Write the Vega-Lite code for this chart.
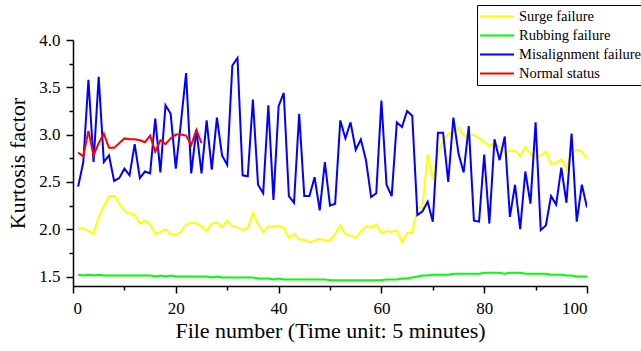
{
  "$schema": "https://vega.github.io/schema/vega-lite/v6.json",
  "width": 514,
  "height": 246,
  "autosize": {"type": "none"},
  "padding": {"left": 73, "top": 40, "right": 54, "bottom": 65},
  "background": "white",
  "config": {
    "view": {"stroke": null},
    "axis": {
      "labelFont": "Liberation Serif",
      "titleFont": "Liberation Serif",
      "labelColor": "black",
      "titleColor": "black",
      "domainColor": "black",
      "tickColor": "black",
      "domainWidth": 1.5,
      "tickWidth": 1.5,
      "labelFontSize": 17,
      "titleFontSize": 22,
      "titleFontWeight": "normal",
      "grid": false,
      "labelOverlap": false
    },
    "legend": {"strokeWidth": 1}
  },
  "data": {
    "values": [
      {"x":1,"s":"Surge failure","y":2.01},{"x":2,"s":"Surge failure","y":2.01},{"x":3,"s":"Surge failure","y":1.98},{"x":4,"s":"Surge failure","y":1.95},{"x":5,"s":"Surge failure","y":2.13},{"x":6,"s":"Surge failure","y":2.24},{"x":7,"s":"Surge failure","y":2.35},{"x":8,"s":"Surge failure","y":2.35},{"x":9,"s":"Surge failure","y":2.27},{"x":10,"s":"Surge failure","y":2.19},
      {"x":11,"s":"Surge failure","y":2.17},{"x":12,"s":"Surge failure","y":2.15},{"x":13,"s":"Surge failure","y":2.06},{"x":14,"s":"Surge failure","y":2.09},{"x":15,"s":"Surge failure","y":2.05},{"x":16,"s":"Surge failure","y":1.95},{"x":17,"s":"Surge failure","y":1.97},{"x":18,"s":"Surge failure","y":2.0},{"x":19,"s":"Surge failure","y":1.95},{"x":20,"s":"Surge failure","y":1.94},
      {"x":21,"s":"Surge failure","y":1.97},{"x":22,"s":"Surge failure","y":2.05},{"x":23,"s":"Surge failure","y":2.07},{"x":24,"s":"Surge failure","y":2.06},{"x":25,"s":"Surge failure","y":2.03},{"x":26,"s":"Surge failure","y":1.98},{"x":27,"s":"Surge failure","y":2.06},{"x":28,"s":"Surge failure","y":2.07},{"x":29,"s":"Surge failure","y":2.02},{"x":30,"s":"Surge failure","y":2.09},
      {"x":31,"s":"Surge failure","y":2.03},{"x":32,"s":"Surge failure","y":2.02},{"x":33,"s":"Surge failure","y":1.99},{"x":34,"s":"Surge failure","y":2.01},{"x":35,"s":"Surge failure","y":2.17},{"x":36,"s":"Surge failure","y":2.05},{"x":37,"s":"Surge failure","y":1.97},{"x":38,"s":"Surge failure","y":2.03},{"x":39,"s":"Surge failure","y":2.03},{"x":40,"s":"Surge failure","y":2.04},
      {"x":41,"s":"Surge failure","y":2.01},{"x":42,"s":"Surge failure","y":1.91},{"x":43,"s":"Surge failure","y":1.95},{"x":44,"s":"Surge failure","y":1.89},{"x":45,"s":"Surge failure","y":1.89},{"x":46,"s":"Surge failure","y":1.86},{"x":47,"s":"Surge failure","y":1.88},{"x":48,"s":"Surge failure","y":1.9},{"x":49,"s":"Surge failure","y":1.88},{"x":50,"s":"Surge failure","y":1.88},
      {"x":51,"s":"Surge failure","y":1.95},{"x":52,"s":"Surge failure","y":2.04},{"x":53,"s":"Surge failure","y":1.95},{"x":54,"s":"Surge failure","y":1.93},{"x":55,"s":"Surge failure","y":1.91},{"x":56,"s":"Surge failure","y":1.98},{"x":57,"s":"Surge failure","y":2.03},{"x":58,"s":"Surge failure","y":2.02},{"x":59,"s":"Surge failure","y":2.05},{"x":60,"s":"Surge failure","y":1.96},
      {"x":61,"s":"Surge failure","y":1.98},{"x":62,"s":"Surge failure","y":1.97},{"x":63,"s":"Surge failure","y":1.99},{"x":64,"s":"Surge failure","y":1.86},{"x":65,"s":"Surge failure","y":1.96},{"x":66,"s":"Surge failure","y":1.96},{"x":67,"s":"Surge failure","y":2.23},{"x":68,"s":"Surge failure","y":2.23},{"x":69,"s":"Surge failure","y":2.79},{"x":70,"s":"Surge failure","y":2.52},
      {"x":71,"s":"Surge failure","y":2.81},{"x":72,"s":"Surge failure","y":2.94},{"x":73,"s":"Surge failure","y":3.01},{"x":74,"s":"Surge failure","y":3.02},{"x":75,"s":"Surge failure","y":3.07},{"x":76,"s":"Surge failure","y":2.99},{"x":77,"s":"Surge failure","y":2.98},{"x":78,"s":"Surge failure","y":3.0},{"x":79,"s":"Surge failure","y":2.96},{"x":80,"s":"Surge failure","y":2.92},
      {"x":81,"s":"Surge failure","y":2.88},{"x":82,"s":"Surge failure","y":2.91},{"x":83,"s":"Surge failure","y":2.87},{"x":84,"s":"Surge failure","y":2.8},{"x":85,"s":"Surge failure","y":2.83},{"x":86,"s":"Surge failure","y":2.83},{"x":87,"s":"Surge failure","y":2.77},{"x":88,"s":"Surge failure","y":2.87},{"x":89,"s":"Surge failure","y":2.8},{"x":90,"s":"Surge failure","y":2.75},
      {"x":91,"s":"Surge failure","y":2.78},{"x":92,"s":"Surge failure","y":2.82},{"x":93,"s":"Surge failure","y":2.69},{"x":94,"s":"Surge failure","y":2.7},{"x":95,"s":"Surge failure","y":2.74},{"x":96,"s":"Surge failure","y":2.64},{"x":97,"s":"Surge failure","y":2.8},{"x":98,"s":"Surge failure","y":2.84},{"x":99,"s":"Surge failure","y":2.82},{"x":100,"s":"Surge failure","y":2.75},

      {"x":1,"s":"Rubbing failure","y":1.52},{"x":2,"s":"Rubbing failure","y":1.51},{"x":3,"s":"Rubbing failure","y":1.52},{"x":4,"s":"Rubbing failure","y":1.51},{"x":5,"s":"Rubbing failure","y":1.52},{"x":6,"s":"Rubbing failure","y":1.51},{"x":7,"s":"Rubbing failure","y":1.51},{"x":8,"s":"Rubbing failure","y":1.51},{"x":9,"s":"Rubbing failure","y":1.51},{"x":10,"s":"Rubbing failure","y":1.51},
      {"x":11,"s":"Rubbing failure","y":1.51},{"x":12,"s":"Rubbing failure","y":1.51},{"x":13,"s":"Rubbing failure","y":1.51},{"x":14,"s":"Rubbing failure","y":1.51},{"x":15,"s":"Rubbing failure","y":1.51},{"x":16,"s":"Rubbing failure","y":1.5},{"x":17,"s":"Rubbing failure","y":1.51},{"x":18,"s":"Rubbing failure","y":1.5},{"x":19,"s":"Rubbing failure","y":1.51},{"x":20,"s":"Rubbing failure","y":1.5},
      {"x":21,"s":"Rubbing failure","y":1.5},{"x":22,"s":"Rubbing failure","y":1.5},{"x":23,"s":"Rubbing failure","y":1.5},{"x":24,"s":"Rubbing failure","y":1.5},{"x":25,"s":"Rubbing failure","y":1.5},{"x":26,"s":"Rubbing failure","y":1.5},{"x":27,"s":"Rubbing failure","y":1.49},{"x":28,"s":"Rubbing failure","y":1.5},{"x":29,"s":"Rubbing failure","y":1.49},{"x":30,"s":"Rubbing failure","y":1.49},
      {"x":31,"s":"Rubbing failure","y":1.49},{"x":32,"s":"Rubbing failure","y":1.49},{"x":33,"s":"Rubbing failure","y":1.49},{"x":34,"s":"Rubbing failure","y":1.49},{"x":35,"s":"Rubbing failure","y":1.49},{"x":36,"s":"Rubbing failure","y":1.48},{"x":37,"s":"Rubbing failure","y":1.48},{"x":38,"s":"Rubbing failure","y":1.48},{"x":39,"s":"Rubbing failure","y":1.47},{"x":40,"s":"Rubbing failure","y":1.48},
      {"x":41,"s":"Rubbing failure","y":1.47},{"x":42,"s":"Rubbing failure","y":1.47},{"x":43,"s":"Rubbing failure","y":1.47},{"x":44,"s":"Rubbing failure","y":1.47},{"x":45,"s":"Rubbing failure","y":1.47},{"x":46,"s":"Rubbing failure","y":1.47},{"x":47,"s":"Rubbing failure","y":1.47},{"x":48,"s":"Rubbing failure","y":1.47},{"x":49,"s":"Rubbing failure","y":1.47},{"x":50,"s":"Rubbing failure","y":1.46},
      {"x":51,"s":"Rubbing failure","y":1.46},{"x":52,"s":"Rubbing failure","y":1.46},{"x":53,"s":"Rubbing failure","y":1.46},{"x":54,"s":"Rubbing failure","y":1.46},{"x":55,"s":"Rubbing failure","y":1.46},{"x":56,"s":"Rubbing failure","y":1.46},{"x":57,"s":"Rubbing failure","y":1.46},{"x":58,"s":"Rubbing failure","y":1.46},{"x":59,"s":"Rubbing failure","y":1.46},{"x":60,"s":"Rubbing failure","y":1.46},
      {"x":61,"s":"Rubbing failure","y":1.47},{"x":62,"s":"Rubbing failure","y":1.47},{"x":63,"s":"Rubbing failure","y":1.47},{"x":64,"s":"Rubbing failure","y":1.48},{"x":65,"s":"Rubbing failure","y":1.48},{"x":66,"s":"Rubbing failure","y":1.49},{"x":67,"s":"Rubbing failure","y":1.5},{"x":68,"s":"Rubbing failure","y":1.51},{"x":69,"s":"Rubbing failure","y":1.51},{"x":70,"s":"Rubbing failure","y":1.52},
      {"x":71,"s":"Rubbing failure","y":1.52},{"x":72,"s":"Rubbing failure","y":1.52},{"x":73,"s":"Rubbing failure","y":1.52},{"x":74,"s":"Rubbing failure","y":1.53},{"x":75,"s":"Rubbing failure","y":1.53},{"x":76,"s":"Rubbing failure","y":1.53},{"x":77,"s":"Rubbing failure","y":1.53},{"x":78,"s":"Rubbing failure","y":1.53},{"x":79,"s":"Rubbing failure","y":1.53},{"x":80,"s":"Rubbing failure","y":1.54},
      {"x":81,"s":"Rubbing failure","y":1.54},{"x":82,"s":"Rubbing failure","y":1.54},{"x":83,"s":"Rubbing failure","y":1.54},{"x":84,"s":"Rubbing failure","y":1.53},{"x":85,"s":"Rubbing failure","y":1.54},{"x":86,"s":"Rubbing failure","y":1.54},{"x":87,"s":"Rubbing failure","y":1.54},{"x":88,"s":"Rubbing failure","y":1.53},{"x":89,"s":"Rubbing failure","y":1.53},{"x":90,"s":"Rubbing failure","y":1.53},
      {"x":91,"s":"Rubbing failure","y":1.53},{"x":92,"s":"Rubbing failure","y":1.53},{"x":93,"s":"Rubbing failure","y":1.52},{"x":94,"s":"Rubbing failure","y":1.52},{"x":95,"s":"Rubbing failure","y":1.52},{"x":96,"s":"Rubbing failure","y":1.51},{"x":97,"s":"Rubbing failure","y":1.51},{"x":98,"s":"Rubbing failure","y":1.5},{"x":99,"s":"Rubbing failure","y":1.5},{"x":100,"s":"Rubbing failure","y":1.5},

      {"x":1,"s":"Misalignment failure","y":2.45},{"x":2,"s":"Misalignment failure","y":2.71},{"x":3,"s":"Misalignment failure","y":3.58},{"x":4,"s":"Misalignment failure","y":2.71},{"x":5,"s":"Misalignment failure","y":3.61},{"x":6,"s":"Misalignment failure","y":2.71},{"x":7,"s":"Misalignment failure","y":2.78},{"x":8,"s":"Misalignment failure","y":2.51},{"x":9,"s":"Misalignment failure","y":2.54},{"x":10,"s":"Misalignment failure","y":2.64},
      {"x":11,"s":"Misalignment failure","y":2.57},{"x":12,"s":"Misalignment failure","y":2.9},{"x":13,"s":"Misalignment failure","y":2.54},{"x":14,"s":"Misalignment failure","y":2.61},{"x":15,"s":"Misalignment failure","y":2.59},{"x":16,"s":"Misalignment failure","y":3.17},{"x":17,"s":"Misalignment failure","y":2.6},{"x":18,"s":"Misalignment failure","y":3.31},{"x":19,"s":"Misalignment failure","y":3.22},{"x":20,"s":"Misalignment failure","y":2.64},
      {"x":21,"s":"Misalignment failure","y":3.13},{"x":22,"s":"Misalignment failure","y":3.65},{"x":23,"s":"Misalignment failure","y":2.59},{"x":24,"s":"Misalignment failure","y":3.05},{"x":25,"s":"Misalignment failure","y":2.59},{"x":26,"s":"Misalignment failure","y":3.15},{"x":27,"s":"Misalignment failure","y":2.63},{"x":28,"s":"Misalignment failure","y":3.18},{"x":29,"s":"Misalignment failure","y":2.78},{"x":30,"s":"Misalignment failure","y":2.68},
      {"x":31,"s":"Misalignment failure","y":3.73},{"x":32,"s":"Misalignment failure","y":3.81},{"x":33,"s":"Misalignment failure","y":2.57},{"x":34,"s":"Misalignment failure","y":2.56},{"x":35,"s":"Misalignment failure","y":3.37},{"x":36,"s":"Misalignment failure","y":2.47},{"x":37,"s":"Misalignment failure","y":2.38},{"x":38,"s":"Misalignment failure","y":3.31},{"x":39,"s":"Misalignment failure","y":2.31},{"x":40,"s":"Misalignment failure","y":3.3},
      {"x":41,"s":"Misalignment failure","y":3.44},{"x":42,"s":"Misalignment failure","y":2.35},{"x":43,"s":"Misalignment failure","y":2.28},{"x":44,"s":"Misalignment failure","y":3.22},{"x":45,"s":"Misalignment failure","y":2.35},{"x":46,"s":"Misalignment failure","y":2.35},{"x":47,"s":"Misalignment failure","y":2.55},{"x":48,"s":"Misalignment failure","y":2.2},{"x":49,"s":"Misalignment failure","y":2.71},{"x":50,"s":"Misalignment failure","y":2.25},
      {"x":51,"s":"Misalignment failure","y":2.27},{"x":52,"s":"Misalignment failure","y":3.15},{"x":53,"s":"Misalignment failure","y":2.96},{"x":54,"s":"Misalignment failure","y":3.13},{"x":55,"s":"Misalignment failure","y":2.84},{"x":56,"s":"Misalignment failure","y":2.95},{"x":57,"s":"Misalignment failure","y":2.73},{"x":58,"s":"Misalignment failure","y":2.34},{"x":59,"s":"Misalignment failure","y":2.38},{"x":60,"s":"Misalignment failure","y":3.36},
      {"x":61,"s":"Misalignment failure","y":2.47},{"x":62,"s":"Misalignment failure","y":2.35},{"x":63,"s":"Misalignment failure","y":3.13},{"x":64,"s":"Misalignment failure","y":3.08},{"x":65,"s":"Misalignment failure","y":3.25},{"x":66,"s":"Misalignment failure","y":3.2},{"x":67,"s":"Misalignment failure","y":2.15},{"x":68,"s":"Misalignment failure","y":2.19},{"x":69,"s":"Misalignment failure","y":2.29},{"x":70,"s":"Misalignment failure","y":2.08},
      {"x":71,"s":"Misalignment failure","y":3.02},{"x":72,"s":"Misalignment failure","y":3.02},{"x":73,"s":"Misalignment failure","y":2.5},{"x":74,"s":"Misalignment failure","y":3.18},{"x":75,"s":"Misalignment failure","y":2.8},{"x":76,"s":"Misalignment failure","y":2.6},{"x":77,"s":"Misalignment failure","y":3.09},{"x":78,"s":"Misalignment failure","y":2.09},{"x":79,"s":"Misalignment failure","y":2.08},{"x":80,"s":"Misalignment failure","y":2.79},
      {"x":81,"s":"Misalignment failure","y":2.06},{"x":82,"s":"Misalignment failure","y":2.95},{"x":83,"s":"Misalignment failure","y":2.73},{"x":84,"s":"Misalignment failure","y":2.98},{"x":85,"s":"Misalignment failure","y":2.13},{"x":86,"s":"Misalignment failure","y":2.47},{"x":87,"s":"Misalignment failure","y":2.0},{"x":88,"s":"Misalignment failure","y":2.61},{"x":89,"s":"Misalignment failure","y":2.27},{"x":90,"s":"Misalignment failure","y":3.13},
      {"x":91,"s":"Misalignment failure","y":1.99},{"x":92,"s":"Misalignment failure","y":2.04},{"x":93,"s":"Misalignment failure","y":2.35},{"x":94,"s":"Misalignment failure","y":2.26},{"x":95,"s":"Misalignment failure","y":2.65},{"x":96,"s":"Misalignment failure","y":2.28},{"x":97,"s":"Misalignment failure","y":3.01},{"x":98,"s":"Misalignment failure","y":2.08},{"x":99,"s":"Misalignment failure","y":2.47},{"x":100,"s":"Misalignment failure","y":2.23},

      {"x":1,"s":"Normal status","y":2.81},{"x":2,"s":"Normal status","y":2.77},{"x":3,"s":"Normal status","y":3.04},{"x":4,"s":"Normal status","y":2.78},{"x":5,"s":"Normal status","y":2.91},{"x":6,"s":"Normal status","y":3.01},{"x":7,"s":"Normal status","y":2.86},{"x":8,"s":"Normal status","y":2.86},{"x":9,"s":"Normal status","y":2.91},{"x":10,"s":"Normal status","y":2.96},
      {"x":11,"s":"Normal status","y":2.95},{"x":12,"s":"Normal status","y":2.95},{"x":13,"s":"Normal status","y":2.94},{"x":14,"s":"Normal status","y":2.92},{"x":15,"s":"Normal status","y":2.99},{"x":16,"s":"Normal status","y":2.82},{"x":17,"s":"Normal status","y":2.94},{"x":18,"s":"Normal status","y":2.9},{"x":19,"s":"Normal status","y":2.96},{"x":20,"s":"Normal status","y":3.0},
      {"x":21,"s":"Normal status","y":3.0},{"x":22,"s":"Normal status","y":2.99},{"x":23,"s":"Normal status","y":2.89},{"x":24,"s":"Normal status","y":3.05},{"x":25,"s":"Normal status","y":2.91}
    ]
  },
  "mark": {"type": "line", "strokeWidth": 2, "clip": true},
  "encoding": {
    "x": {
      "field": "x", "type": "quantitative",
      "scale": {"domain": [0, 100], "nice": false},
      "axis": {
        "title": "File number (Time unit: 5 minutes)",
        "values": [0, 10, 20, 30, 40, 50, 60, 70, 80, 90, 100],
        "labelExpr": "datum.value % 20 === 0 ? datum.label : ''",
        "tickSize": {"condition": {"test": "datum.value % 20 === 0", "value": 7}, "value": 4},
        "labelPadding": 7,
        "titlePadding": 4
      }
    },
    "y": {
      "field": "y", "type": "quantitative",
      "scale": {"domain": [1.4, 4.0], "nice": false, "zero": false},
      "axis": {
        "title": "Kurtosis factor",
        "values": [1.5, 1.75, 2.0, 2.25, 2.5, 2.75, 3.0, 3.25, 3.5, 3.75, 4.0],
        "labelExpr": "abs(datum.value*2 - round(datum.value*2)) < 0.001 ? format(datum.value, '.1f') : ''",
        "tickSize": {"condition": {"test": "abs(datum.value*2 - round(datum.value*2)) < 0.001", "value": 7}, "value": 4},
        "labelPadding": 6,
        "titlePadding": 9
      }
    },
    "color": {
      "field": "s", "type": "nominal",
      "sort": ["Surge failure", "Rubbing failure", "Misalignment failure", "Normal status"],
      "scale": {
        "domain": ["Surge failure", "Rubbing failure", "Misalignment failure", "Normal status"],
        "range": ["#FFFF00", "#00FF00", "#0000FF", "#FF0000"]
      },
      "legend": {
        "title": null,
        "orient": "none",
        "legendX": 404,
        "legendY": -35,
        "symbolType": "stroke",
        "symbolSize": 1156,
        "symbolStrokeWidth": 2,
        "labelFont": "Liberation Serif",
        "labelFontSize": 14.5,
        "labelColor": "black",
        "strokeColor": "black",
        "fillColor": "white",
        "padding": 2,
        "rowPadding": 0,
        "clipHeight": 19,
        "labelOffset": 4,
        "cornerRadius": 0
      }
    }
  }
}
